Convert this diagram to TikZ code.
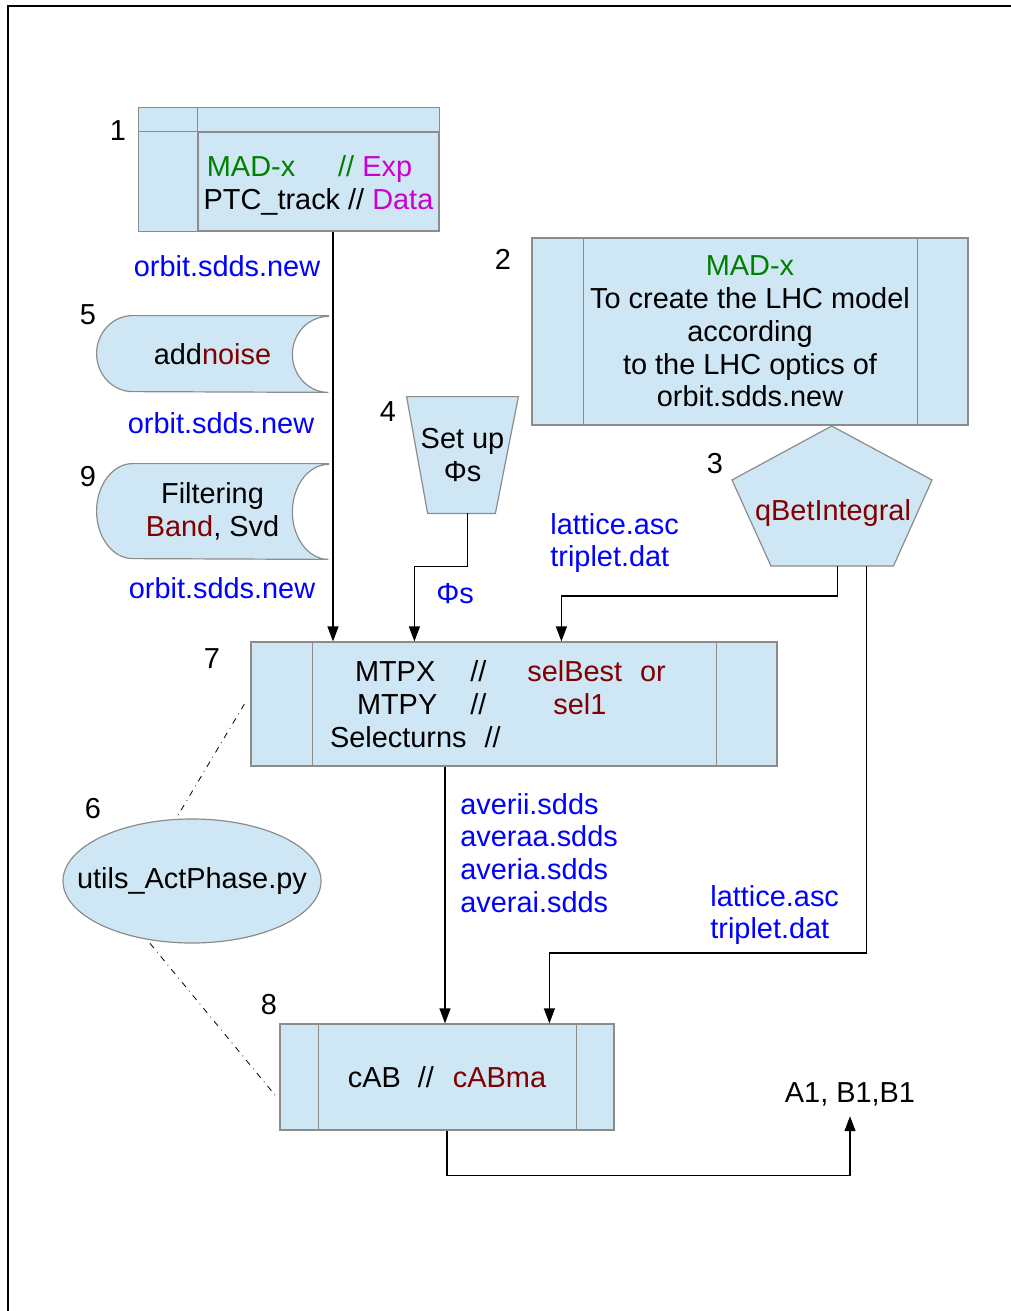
\documentclass[tikz,border=0pt]{standalone}
\usepackage{fontspec}
\setmainfont{Liberation Sans}
\usetikzlibrary{arrows.meta,backgrounds}
\definecolor{boxfill}{HTML}{CFE7F5}
\definecolor{boxline}{HTML}{8C8C8C}
\definecolor{madgreen}{HTML}{008000}
\definecolor{expmag}{HTML}{CC00CC}
\definecolor{codered}{HTML}{800000}
\definecolor{fileblue}{HTML}{0000FF}

\begin{document}
\begin{tikzpicture}[
  x=0.5pt, y=-0.5pt,
  font=\fontsize{14.45}{16.4}\selectfont,
  box/.style={draw=boxline, fill=boxfill, line width=0.6pt, inner sep=0pt, align=center},
  inside/.style={inner sep=0pt, align=center},
  shapeline/.style={draw=boxline, fill=boxfill, line width=0.6pt},
  divider/.style={draw=boxline, line width=0.6pt},
  fname/.style={text=fileblue, inner sep=0pt, align=left},
  stepnum/.style={inner sep=0pt},
  arrow/.style={-{Triangle[length=7.5pt, width=5.5pt]}, line width=0.6pt},
  dotlink/.style={line width=0.4pt, dash pattern=on 3pt off 2.5pt on 0.4pt off 2.5pt}
]
\useasboundingbox (0,0) rectangle (1011,1311);
\draw[line width=0.8pt] (8,1311) -- (8,6) -- (1011,6);

% boxes
\node[box, minimum width=120.5pt, minimum height=49.5pt] (madx) at (318.5,181.5)
  {\rule{0pt}{14.5pt}{\color{madgreen}MAD-x\hspace{21.5pt}//} {\color{expmag}Exp}\hspace*{9pt}\\PTC\_track // {\color{expmag}Data}};
\node[box, minimum width=218pt, minimum height=93.5pt] (lhc) at (750,331.5)
  {{\color{madgreen}MAD-x}\\To create the LHC model\\according\\to the LHC optics of\\orbit.sdds.new};
\node[inside, minimum width=115.5pt, minimum height=38pt] (noise) at (212.5,354) {add{\color{codered}noise}};
\node[inside, minimum width=115.5pt, minimum height=47.5pt] (filt) at (212.5,511.5) {Filtering\\{\color{codered}Band}, Svd};
\node[inside, minimum width=55.5pt, minimum height=58pt] (setup) at (462.5,455) {Set up\\Φs};
\node[inside, text=codered] (qbet) at (833,513) {qBetIntegral};
\coordinate (qb1) at (837.5,566);
\coordinate (qb2) at (866.5,566);
\node[box, minimum width=263pt, minimum height=62pt, text width=184pt, align=left] (mtp) at (514,704)
  {\hspace*{12.5pt}MTPX\hspace{17.5pt}//\hspace{20.5pt}{\color{codered}selBest\hspace{9pt}or}\\
   \hspace*{13.5pt}MTPY\hspace{16.5pt}//\hspace{33.5pt}{\color{codered}sel1}\\
   Selecturns\hspace{9pt}//};
\node[inside, minimum width=129pt, minimum height=62pt] (util) at (192,881) {utils\_ActPhase.py};
\node[box, minimum width=167pt, minimum height=53pt] (cab) at (447,1077)
  {cAB\hspace{8.5pt}//\hspace{9.5pt}{\color{codered}cABma}};
\node[inside, inner sep=5pt] (res) at (850,1094) {A1, B1,B1};

% shapes behind the texts
\begin{scope}[on background layer]
\draw[shapeline] ([shift={(-29.5pt,12pt)}]madx.north west) rectangle (madx.south east);
\draw[shapeline] (noise.north east) -- ([xshift=18pt]noise.north west)
  arc[start angle=90, end angle=270, x radius=18pt, y radius=19pt] -- (noise.south east)
  arc[start angle=270, end angle=90, x radius=18pt, y radius=19pt] -- cycle;
\draw[shapeline] (filt.north east) -- ([xshift=18pt]filt.north west)
  arc[start angle=90, end angle=270, x radius=18pt, y radius=23.75pt] -- (filt.south east)
  arc[start angle=270, end angle=90, x radius=18pt, y radius=23.75pt] -- cycle;
\draw[shapeline] (setup.north west) -- (setup.north east) -- ([xshift=-11.5pt]setup.south east)
  -- ([xshift=10.5pt]setup.south west) -- cycle;
\draw[shapeline] (831.7,426) -- (932,480) -- (893.5,566) -- (771,566) -- (732,480) -- cycle;
\draw[shapeline] (util.center) ellipse[x radius=64.5pt, y radius=31pt];
\end{scope}

% column lines
\draw[divider] ([yshift=12pt]madx.north west) -- (madx.north west) -- ([xshift=-29.5pt]madx.north west);
\draw[divider] ([xshift=26pt]lhc.north west) -- ([xshift=26pt]lhc.south west);
\draw[divider] ([xshift=-25.5pt]lhc.north east) -- ([xshift=-25.5pt]lhc.south east);
\draw[divider] ([xshift=31pt]mtp.north west) -- ([xshift=31pt]mtp.south west);
\draw[divider] ([xshift=-30.5pt]mtp.north east) -- ([xshift=-30.5pt]mtp.south east);
\draw[divider] ([xshift=19.5pt]cab.north west) -- ([xshift=19.5pt]cab.south west);
\draw[divider] ([xshift=-19pt]cab.north east) -- ([xshift=-19pt]cab.south east);

% step numbers
\node[stepnum] (num1) at (118,131) {1};
\node[stepnum] (num2) at (503,259) {2};
\node[stepnum] (num3) at (715,464) {3};
\node[stepnum] (num4) at (388,412) {4};
\node[stepnum] (num5) at (88,315) {5};
\node[stepnum] (num6) at (93,809) {6};
\node[stepnum] (num7) at (212,659) {7};
\node[stepnum] (num8) at (269,1005) {8};
\node[stepnum] (num9) at (88,477) {9};

% file names
\node[fname] (orbit1) at (227,266) {orbit.sdds.new};
\node[fname] (orbit2) at (221,423) {orbit.sdds.new};
\node[fname] (orbit3) at (222,588) {orbit.sdds.new};
\node[fname, anchor=west] (lat1) at (550,543) {lattice.asc\\triplet.dat};
\node[fname] (phis) at (455,594) {Φs};
\node[fname, anchor=west] (aver) at (460,853) {averii.sdds\\averaa.sdds\\averia.sdds\\averai.sdds};
\node[fname, anchor=west] (lat2) at (710,915) {lattice.asc\\triplet.dat};

% connectors
\draw[arrow] ([xshift=7.25pt]madx.south) -- ([xshift=7.25pt]madx.south |- mtp.north);
\draw[arrow] ([xshift=2.6pt]setup.south) -- ++(0,53) -| ([xshift=82pt]mtp.north west);
\draw[arrow] (qb1) -- ++(0,30) -| ([xshift=155.5pt]mtp.north west);
\draw[arrow] (qb2) -- ++(0,387) -| ([xshift=135pt]cab.north west);
\draw[arrow] ([xshift=-34.5pt]mtp.south) -- ([xshift=-34.5pt]mtp.south |- cab.north);
\draw[arrow] (cab.south) -- ++(0,45) -| (res.south);
\draw[dotlink] ([xshift=-3pt]mtp.west) -- ([xshift=-8pt]util.north);
\draw[dotlink] ([xshift=-21pt]util.south) -- ([shift={(-1pt,-10.5pt)}]cab.west);
\end{tikzpicture}
\end{document}
